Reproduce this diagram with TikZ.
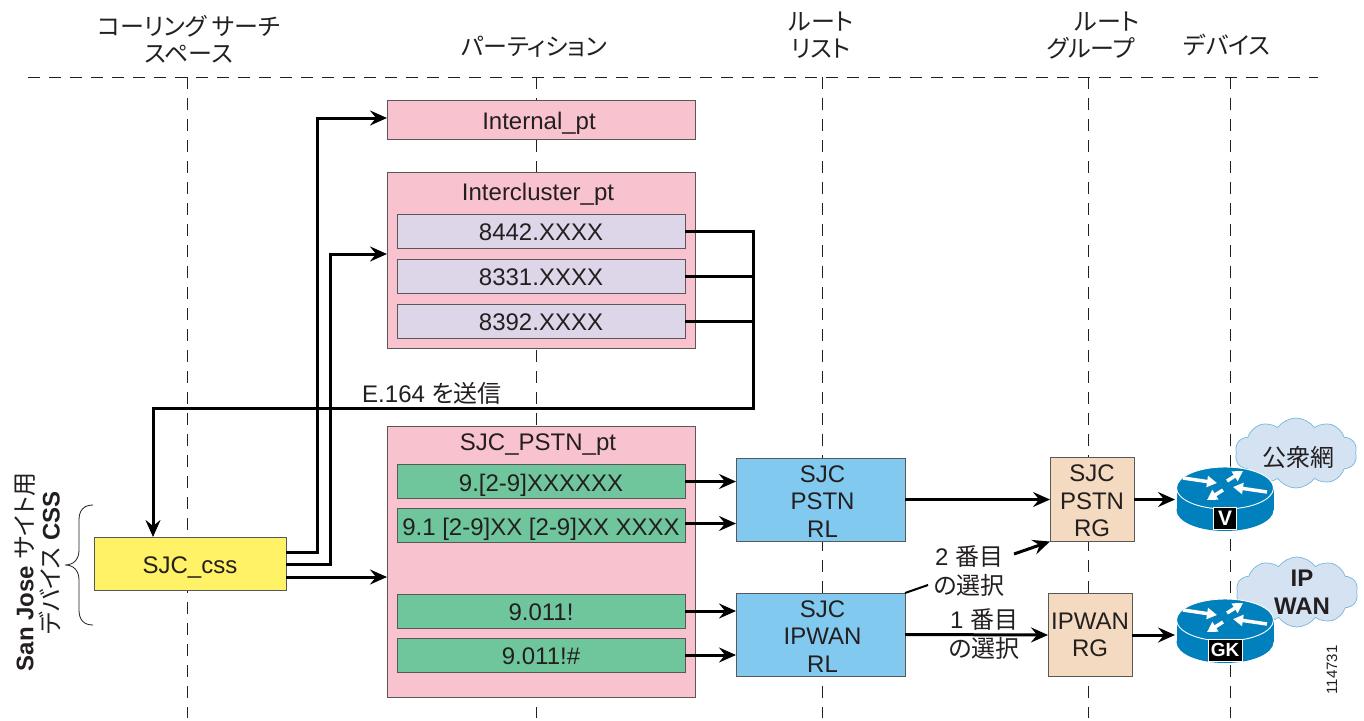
\documentclass[tikz,border=0pt]{standalone}
\usepackage{fontspec}
\setmainfont{Liberation Sans}
\newfontfamily\jpfont[RawFeature=+palt]{Noto Sans CJK JP}
\usepackage{tikz}
\usetikzlibrary{positioning,arrows.meta,shapes.symbols}

\definecolor{inkc}{HTML}{231F20}
\definecolor{pinkc}{HTML}{F8C3CE}
\definecolor{lavc}{HTML}{DDD5E8}
\definecolor{greenc}{HTML}{6FC69C}
\definecolor{bluec}{HTML}{82C9EF}
\definecolor{tanc}{HTML}{F4DAC0}
\definecolor{yellowc}{HTML}{FFF266}
\definecolor{cloudc}{HTML}{D5E2F2}
\definecolor{routerc}{HTML}{0080BC}

\newcommand\rllines[3]{\rule{0pt}{20pt}\hspace*{4pt}#1\\\hspace*{4pt}#2\\\hspace*{4pt}#3}

\tikzset{
  every node/.style={text=inkc, font=\fontsize{24}{27.5}\selectfont, align=center, inner sep=0pt, outer sep=0pt},
  box/.style={draw=inkc!75, line width=1pt, rectangle},
  oneline/.style={text height=22.5pt, text depth=3pt},
  ptbox/.style={box, fill=pinkc, minimum width=308pt},
  lavbox/.style={box, oneline, fill=lavc, minimum width=288pt, minimum height=34pt},
  greenbox/.style={box, oneline, fill=greenc, minimum width=288pt, minimum height=34pt},
  rlbox/.style={box, fill=bluec, minimum width=169pt, minimum height=83pt},
  rgbox/.style={box, fill=tanc, minimum width=84pt, minimum height=84pt},
  wire/.style={line width=3pt, draw=black},
  link/.style={wire, -{Stealth[length=17pt,width=15pt,inset=6pt]}},
  guide/.style={draw=inkc, line width=0.9pt, dash pattern=on 12pt off 9pt},
  netcloud/.style={cloud, cloud puffs=10, cloud puff arc=110, aspect=1.75, draw=routerc!55, line width=0.7pt, fill=cloudc, minimum width=122pt, minimum height=70pt},
  whitearrow/.style={draw=white, line width=3.5pt, -{Triangle[length=10pt,width=11pt]}},
  routertag/.style={fill=black, draw=white, line width=0.8pt, text=white, font=\fontsize{21}{21}\bfseries\selectfont, minimum height=22pt},
  pics/router/.style={code={
    \fill[routerc] (0,22) ellipse [x radius=48.5, y radius=21];
    \fill[routerc] (-48.5,0) rectangle (48.5,22);
    \filldraw[fill=routerc, draw=white, line width=0.9pt] (0,0) ellipse [x radius=48.5, y radius=21];
    \draw[whitearrow] (-42,-10) -- (-8,-5);
    \draw[whitearrow] (2,-7) -- (18,-17);
    \draw[whitearrow] (42,4) -- (8,-1);
    \draw[whitearrow] (-2,2) -- (-18,12);
    \coordinate (-west) at (-50,11);
    \coordinate (-tag) at (0,30);
  }}
}

\begin{document}
\begin{tikzpicture}[x=1pt, y=-1pt]
    \useasboundingbox (0,0) rectangle (1364,720);

    \coordinate (rule left) at (28,77);
    \coordinate (rule right) at (1318,77);
    \draw [guide] (rule left) to (rule right);
    \foreach \col/\colx in {css/187, part/536, rl/822, rg/1088, dev/1230} {
        \coordinate (\col top) at (\colx,77);
        \coordinate (\col end) at (\colx,718);
        \draw [guide] (\col top) to (\col end);
    }

    \node (css head) at (189,39) {{\jpfont コーリング サーチ}\\{\jpfont スペース}};
    \node (part head) at (534,47) {\jpfont パーティション};
    \node (rl head) at (821,35) {{\jpfont ルート}\\{\jpfont リスト}};
    \node (rg head) at (1107,22) {\jpfont ルート};
    \node (rg head b) at (1091,48) {\jpfont グループ};
    \node (dev head) at (1227,45) {\jpfont デバイス};

    \node [ptbox, oneline, minimum height=39pt] (internal) at (541,119.5) {Internal\_pt\hspace{4pt}};

    \node [ptbox, minimum height=176pt] (intercluster) at (541,260) {};
    \node (intercluster title) at (538,194) {Intercluster\_pt};
    \node [lavbox] (r8442) at (541,231) {8442.XXXX};
    \node [lavbox, below=11pt of r8442] (r8331) {8331.XXXX};
    \node [lavbox, below=11pt of r8331] (r8392) {8392.XXXX};

    \node [ptbox, minimum height=271pt] (pstn) at (541,561.5) {};
    \node (pstn title) at (538,445) {SJC\_PSTN\_pt};
    \node [greenbox] (r92) at (541,481.5) {9.[2-9]XXXXXX};
    \node [greenbox, below=10pt of r92] (r91) {9.1 [2-9]XX [2-9]XX XXXX};
    \node [greenbox] (r9011) at (541,611) {9.011!};
    \node [greenbox, below=10pt of r9011] (r9011h) {9.011!\#};

    \node [box, oneline, fill=yellowc, minimum width=192pt, minimum height=53pt] (css) at (190,563.5) {SJC\_css};

    \node [rlbox] (pstnrl) at (820.5,499.5) {\rllines{SJC}{PSTN}{RL}};
    \node [rlbox, below=52pt of pstnrl] (ipwanrl) {\rllines{SJC}{IPWAN}{RL}};
    \node [rgbox, right=145pt of pstnrl] (pstnrg) {\rule{0pt}{20pt}SJC\\PSTN\\RG};
    \node [rgbox, below=52pt of pstnrg, xshift=-2pt, minimum height=83pt] (ipwanrg) {IPWAN\\RG};

    \node [netcloud] (pstn cloud) at (1296,453) {};
    \node [netcloud] (wan cloud) at (1297,592) {};
    \node (pstn cloud label) at (1298,457) {\jpfont 公衆網};
    \node [font=\fontsize{24}{28}\bfseries\selectfont] (wan cloud label) at (1302,592) {IP\\WAN};

    \pic (vgw) at (1225,488) {router};
    \pic (gk) at (1225,620) {router};
    \node [routertag, minimum width=23pt] (vgw tag) at (vgw-tag) {V};
    \node [routertag, minimum width=34pt, font=\fontsize{19}{19}\bfseries\selectfont] (gk tag) at (gk-tag) {GK};

    \coordinate (css a) at ([yshift=11.5pt]css.east);
    \coordinate (css b) at ([yshift=-0.5pt]css.east);
    \coordinate (css c) at ([yshift=-13.5pt]css.east);
    \draw [link] (css a) -| ([xshift=-70pt, yshift=1.5pt]internal.west) to ([yshift=1.5pt]internal.west);
    \draw [link] (css b) -| ([xshift=-57pt, yshift=6pt]intercluster.west) to ([yshift=6pt]intercluster.west);
    \draw [link] (css c) to (css c -| pstn.west);

    \coordinate (e164 bend) at (753,408);
    \draw [link] (r8442.east) -| (e164 bend) -| ([xshift=-37pt]css.north);
    \draw [wire] (r8331.east) to (r8331.east -| e164 bend);
    \draw [wire] (r8392.east) to (r8392.east -| e164 bend);
    \node (e164 label) at (432,393) {E.164 {\jpfont を送信}};

    \draw [link] (r92.east) to (r92.east -| pstnrl.west);
    \draw [link] ([yshift=2pt]r91.east) to ([yshift=2pt]r91.east -| pstnrl.west);
    \draw [link] (r9011.east) to (r9011.east -| ipwanrl.west);
    \draw [link] (r9011h.east) to (r9011h.east -| ipwanrl.west);

    \draw [link] (pstnrl.east) to (pstnrg.west);
    \draw [link] (ipwanrl.east) to (ipwanrg.west);
    \draw [link] (pstnrg.east) to (pstnrg.east -| vgw-west);
    \draw [link] (ipwanrg.east) to (ipwanrg.east -| gk-west);

    \node (second label) at (969,571) {2 {\jpfont 番目}\\[1pt]{\jpfont の選択}};
    \node (first label) at (984,634) {1 {\jpfont 番目}\\[1pt]{\jpfont の選択}};
    \coordinate (second a) at (928,585);
    \coordinate (second b) at (1014,554);
    \draw [wire, line width=2pt] (ipwanrl.north east) to (second a);
    \draw [link] (second b) to (pstnrg.south west);

    \coordinate (brace top) at (93,505);
    \coordinate (brace tip) at (65,565);
    \coordinate (brace end) at (93,625);
    \draw [draw=inkc, line width=0.8pt] (brace top) .. controls (84,505) and (79,510) .. (79,520)
        -- (79,550) .. controls (79,559) and (74,565) .. (brace tip)
        .. controls (74,565) and (79,571) .. (79,580) -- (79,610)
        .. controls (79,620) and (84,625) .. (brace end);

    \node [rotate=90] (css line a) at (25,572) {\textbf{San Jose} {\jpfont サイト用}};
    \node [rotate=90] (css line b) at (50,563) {{\jpfont デバイス} \textbf{CSS}};

    \node [rotate=90, font=\fontsize{15}{15}\selectfont] (fig no) at (1332,670) {114731};
\end{tikzpicture}
\end{document}
